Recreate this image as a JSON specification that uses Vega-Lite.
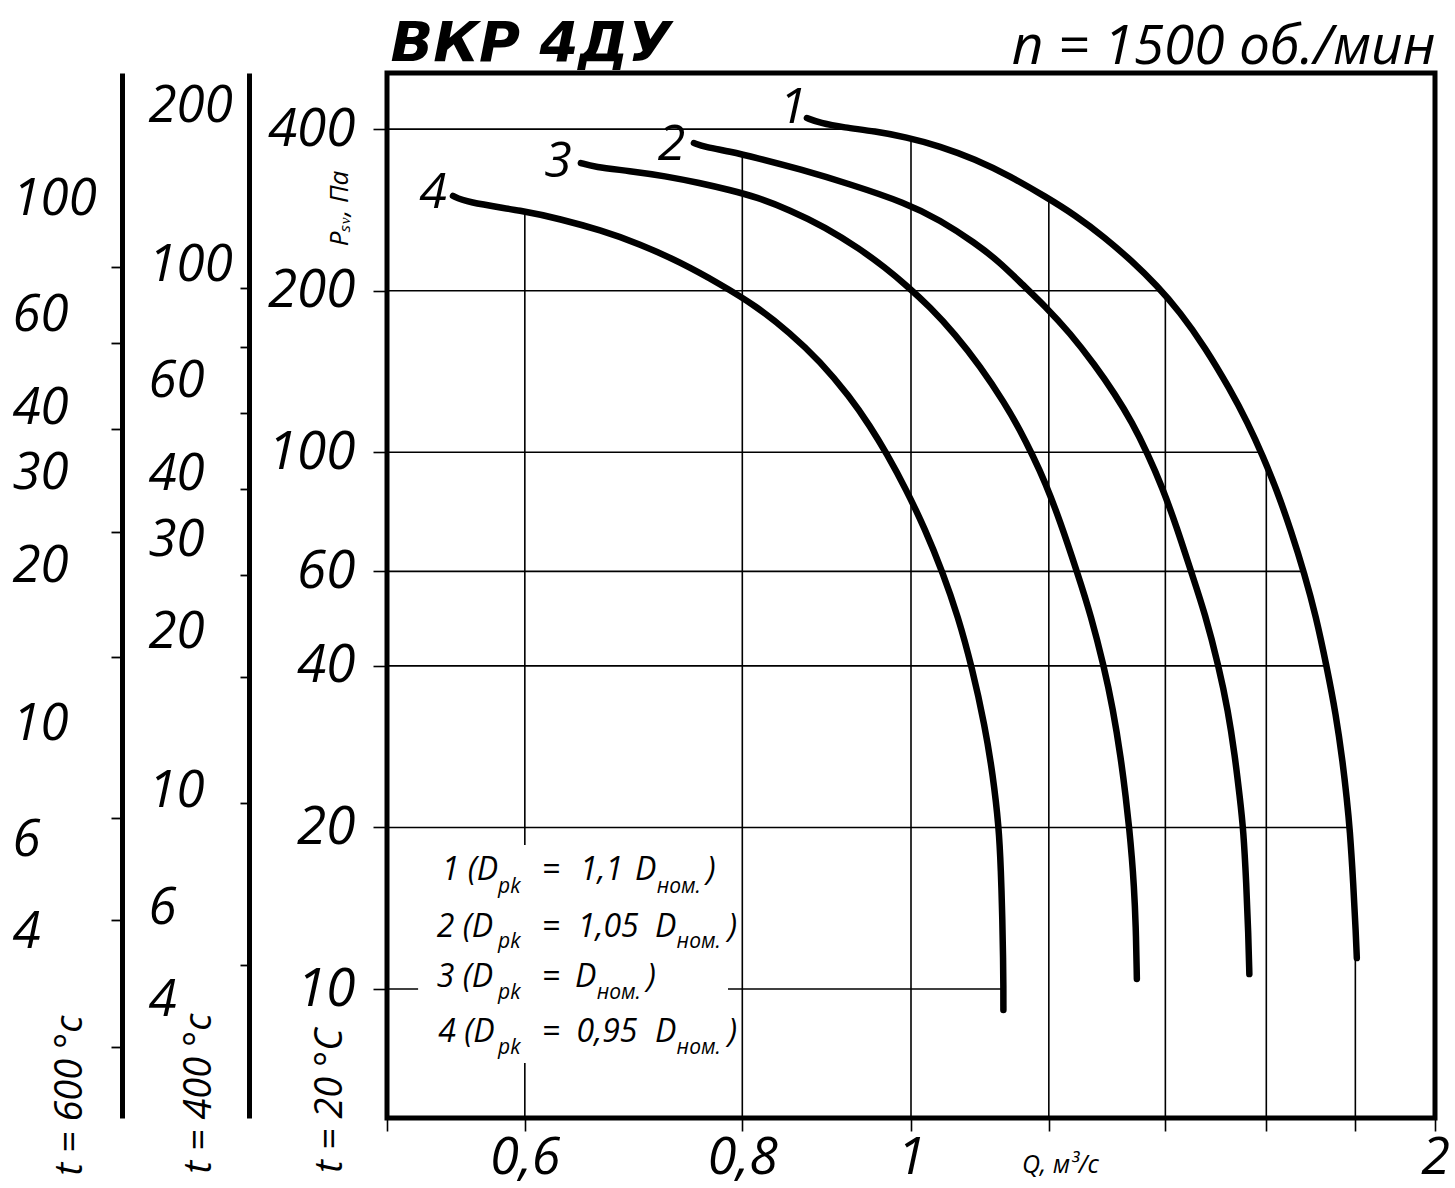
{
  "$schema": "https://vega.github.io/schema/vega-lite/v6.json",
  "width": 1048,
  "height": 1045,
  "autosize": {"type": "none"},
  "padding": {"left": 387, "top": 73, "right": 20, "bottom": 70},
  "background": "white",
  "config": {
    "view": {"stroke": "black", "strokeWidth": 5},
    "font": "Open Sans",
    "axis": {
      "grid": false,
      "labelFont": "Open Sans",
      "titleFont": "Open Sans",
      "labelColor": "black",
      "titleColor": "black",
      "tickColor": "black",
      "domainColor": "black",
      "labelFontStyle": "italic",
      "titleFontStyle": "italic",
      "titleFontWeight": "normal",
      "labelFlush": false,
      "labelOverlap": false
    }
  },
  "datasets": {
    "curves": [
      {"c": 1, "q": 0.8714, "p": 419.6}, {"c": 1, "q": 0.8865, "p": 410.7}, {"c": 1, "q": 0.9151, "p": 402.9},
      {"c": 1, "q": 0.9534, "p": 396.5}, {"c": 1, "q": 0.9933, "p": 386.6}, {"c": 1, "q": 1.0391, "p": 371.9},
      {"c": 1, "q": 1.0882, "p": 351.7}, {"c": 1, "q": 1.1397, "p": 327.2}, {"c": 1, "q": 1.1953, "p": 299.2},
      {"c": 1, "q": 1.2421, "p": 276.8}, {"c": 1, "q": 1.2924, "p": 251.3}, {"c": 1, "q": 1.3394, "p": 227.2},
      {"c": 1, "q": 1.3843, "p": 204.6}, {"c": 1, "q": 1.4271, "p": 182.6}, {"c": 1, "q": 1.4751, "p": 157.1},
      {"c": 1, "q": 1.5247, "p": 131.2}, {"c": 1, "q": 1.5614, "p": 113.4}, {"c": 1, "q": 1.5927, "p": 98.4},
      {"c": 1, "q": 1.6225, "p": 84.95}, {"c": 1, "q": 1.6528, "p": 71.59}, {"c": 1, "q": 1.6836, "p": 59.07},
      {"c": 1, "q": 1.7083, "p": 49.61}, {"c": 1, "q": 1.7334, "p": 39.74}, {"c": 1, "q": 1.7541, "p": 32.57},
      {"c": 1, "q": 1.7704, "p": 26.39}, {"c": 1, "q": 1.7798, "p": 22.61}, {"c": 1, "q": 1.7869, "p": 19.89},
      {"c": 1, "q": 1.7952, "p": 15.69}, {"c": 1, "q": 1.8012, "p": 12.66}, {"c": 1, "q": 1.8035, "p": 11.42},

      {"c": 2, "q": 0.7504, "p": 376.9}, {"c": 2, "q": 0.7614, "p": 370.5}, {"c": 2, "q": 0.7870, "p": 363.5},
      {"c": 2, "q": 0.8146, "p": 354.0}, {"c": 2, "q": 0.8633, "p": 337.0}, {"c": 2, "q": 0.9224, "p": 316.0},
      {"c": 2, "q": 0.9933, "p": 291.4}, {"c": 2, "q": 1.0391, "p": 270.9}, {"c": 2, "q": 1.0882, "p": 245.7},
      {"c": 2, "q": 1.1248, "p": 225.9}, {"c": 2, "q": 1.1595, "p": 205.0}, {"c": 2, "q": 1.1937, "p": 187.4},
      {"c": 2, "q": 1.2339, "p": 166.9}, {"c": 2, "q": 1.2754, "p": 145.4}, {"c": 2, "q": 1.3096, "p": 128.4},
      {"c": 2, "q": 1.3394, "p": 113.9}, {"c": 2, "q": 1.3679, "p": 99.27}, {"c": 2, "q": 1.3935, "p": 86.46},
      {"c": 2, "q": 1.4215, "p": 72.43}, {"c": 2, "q": 1.4499, "p": 59.33}, {"c": 2, "q": 1.4751, "p": 50.18},
      {"c": 2, "q": 1.5027, "p": 39.81}, {"c": 2, "q": 1.5207, "p": 33.10}, {"c": 2, "q": 1.5348, "p": 27.23},
      {"c": 2, "q": 1.5450, "p": 22.69}, {"c": 2, "q": 1.5522, "p": 19.83}, {"c": 2, "q": 1.5583, "p": 15.69},
      {"c": 2, "q": 1.5624, "p": 12.66}, {"c": 2, "q": 1.5645, "p": 10.66},

      {"c": 3, "q": 0.6462, "p": 345.9}, {"c": 3, "q": 0.6574, "p": 340.1}, {"c": 3, "q": 0.6895, "p": 334.3},
      {"c": 3, "q": 0.7222, "p": 327.2}, {"c": 3, "q": 0.7564, "p": 317.5}, {"c": 3, "q": 0.7870, "p": 308.1},
      {"c": 3, "q": 0.8146, "p": 299.1}, {"c": 3, "q": 0.8520, "p": 282.8}, {"c": 3, "q": 0.8924, "p": 262.9},
      {"c": 3, "q": 0.9348, "p": 239.2}, {"c": 3, "q": 0.9661, "p": 221.0}, {"c": 3, "q": 0.9933, "p": 205.0},
      {"c": 3, "q": 1.0254, "p": 186.6}, {"c": 3, "q": 1.0598, "p": 166.1}, {"c": 3, "q": 1.0955, "p": 144.8},
      {"c": 3, "q": 1.1322, "p": 123.3}, {"c": 3, "q": 1.1549, "p": 110.1}, {"c": 3, "q": 1.1749, "p": 98.5},
      {"c": 3, "q": 1.1937, "p": 88.25}, {"c": 3, "q": 1.2176, "p": 74.66}, {"c": 3, "q": 1.2470, "p": 59.23},
      {"c": 3, "q": 1.2687, "p": 49.63}, {"c": 3, "q": 1.2906, "p": 39.93}, {"c": 3, "q": 1.3061, "p": 33.33},
      {"c": 3, "q": 1.3200, "p": 26.94}, {"c": 3, "q": 1.3288, "p": 22.69}, {"c": 3, "q": 1.3349, "p": 19.83},
      {"c": 3, "q": 1.3394, "p": 17.54}, {"c": 3, "q": 1.3428, "p": 15.69}, {"c": 3, "q": 1.3464, "p": 13.16},
      {"c": 3, "q": 1.3482, "p": 10.44},

      {"c": 4, "q": 0.5456, "p": 300.4}, {"c": 4, "q": 0.5543, "p": 292.7}, {"c": 4, "q": 0.5993, "p": 281.6},
      {"c": 4, "q": 0.6286, "p": 272.1}, {"c": 4, "q": 0.6627, "p": 259.6}, {"c": 4, "q": 0.6988, "p": 244.4},
      {"c": 4, "q": 0.7366, "p": 226.2}, {"c": 4, "q": 0.7767, "p": 205.9}, {"c": 4, "q": 0.8146, "p": 187.4},
      {"c": 4, "q": 0.8520, "p": 166.9}, {"c": 4, "q": 0.8865, "p": 147.9}, {"c": 4, "q": 0.9224, "p": 126.8},
      {"c": 4, "q": 0.9472, "p": 111.9}, {"c": 4, "q": 0.9687, "p": 99.27}, {"c": 4, "q": 0.9933, "p": 85.42},
      {"c": 4, "q": 1.0187, "p": 71.96}, {"c": 4, "q": 1.0431, "p": 59.58}, {"c": 4, "q": 1.0640, "p": 49.54},
      {"c": 4, "q": 1.0839, "p": 39.81}, {"c": 4, "q": 1.1027, "p": 30.91}, {"c": 4, "q": 1.1144, "p": 25.04},
      {"c": 4, "q": 1.1233, "p": 20.04}, {"c": 4, "q": 1.1263, "p": 16.66}, {"c": 4, "q": 1.1285, "p": 13.45},
      {"c": 4, "q": 1.1296, "p": 11.32}, {"c": 4, "q": 1.1300, "p": 10.10}, {"c": 4, "q": 1.1300, "p": 9.14}
    ],
    "vgrid": [
      {"q": 0.6, "ptop": 281.4}, {"q": 0.8, "ptop": 359}, {"q": 1.0, "ptop": 384.5},
      {"q": 1.2, "ptop": 297}, {"q": 1.4, "ptop": 196.6}, {"q": 1.6, "ptop": 95.1}, {"q": 1.8, "ptop": 11.42}
    ],
    "hgrid": [
      {"p": 400, "qend": 0.932}, {"p": 200, "qend": 1.393}, {"p": 100, "qend": 1.588},
      {"p": 60, "qend": 1.681}, {"p": 40, "qend": 1.733}, {"p": 20, "qend": 1.787}, {"p": 10, "qend": 1.130}
    ],
    "curveLabels": [
      {"t": "1", "q": 0.8556, "p": 410.7}, {"t": "2", "q": 0.7284, "p": 350.5},
      {"t": "3", "q": 0.6269, "p": 326.2}, {"t": "4", "q": 0.5314, "p": 285.3}
    ],
    "legendMain": [
      {"t": "1 (D", "q": 0.5376, "p": 15.96}, {"t": "=", "q": 0.6135, "p": 15.96}, {"t": "1,1", "q": 0.6454, "p": 15.96},
      {"t": "D", "q": 0.6941, "p": 15.96}, {"t": ")", "q": 0.7631, "p": 15.96},
      {"t": "2 (D", "q": 0.5340, "p": 12.52}, {"t": "=", "q": 0.6135, "p": 12.52}, {"t": "1,05", "q": 0.6436, "p": 12.52},
      {"t": "D", "q": 0.7127, "p": 12.52}, {"t": ")", "q": 0.7849, "p": 12.52},
      {"t": "3 (D", "q": 0.5340, "p": 10.10}, {"t": "=", "q": 0.6135, "p": 10.10}, {"t": "D", "q": 0.6411, "p": 10.10},
      {"t": ")", "q": 0.7049, "p": 10.10},
      {"t": "4 (D", "q": 0.5351, "p": 7.98}, {"t": "=", "q": 0.6135, "p": 7.98}, {"t": "0,95", "q": 0.6425, "p": 7.98},
      {"t": "D", "q": 0.7127, "p": 7.98}, {"t": ")", "q": 0.7849, "p": 7.98}
    ],
    "legendSub": [
      {"t": "pk", "q": 0.5791, "p": 15.10}, {"t": "ном.", "q": 0.7143, "p": 15.10},
      {"t": "pk", "q": 0.5791, "p": 11.92}, {"t": "ном.", "q": 0.7334, "p": 11.92},
      {"t": "pk", "q": 0.5791, "p": 9.58}, {"t": "ном.", "q": 0.6598, "p": 9.58},
      {"t": "pk", "q": 0.5791, "p": 7.57}, {"t": "ном.", "q": 0.7334, "p": 7.57}
    ],
    "t400": [{"v": 4}, {"v": 6}, {"v": 10}, {"v": 20}, {"v": 30}, {"v": 40}, {"v": 60}, {"v": 100}, {"v": 200}],
    "t400ticks": [{"v": 4.68}, {"v": 9.51}, {"v": 16.5}, {"v": 25.8}, {"v": 37.5}, {"v": 52.4}, {"v": 69.9}, {"v": 90.5}],
    "t600": [{"v": 4}, {"v": 6}, {"v": 10}, {"v": 20}, {"v": 30}, {"v": 40}, {"v": 60}, {"v": 100}],
    "t600ticks": [{"v": 2.43}, {"v": 4.23}, {"v": 6.62}, {"v": 13.4}, {"v": 23.2}, {"v": 36.5}, {"v": 53.2}, {"v": 74.2}]
  },
  "layer": [
    {
      "layer": [
        {
          "data": {"name": "vgrid"},
          "mark": {"type": "rule", "color": "black", "strokeWidth": 1.6},
          "encoding": {
            "x": {
              "field": "q", "type": "quantitative",
              "scale": {"type": "log", "domain": [0.5, 2], "nice": false},
              "axis": {
                "orient": "bottom",
                "values": [0.5, 0.6, 0.8, 1, 1.2, 1.4, 1.6, 1.8, 2],
                "labelExpr": "datum.value == 0.6 ? '0,6' : datum.value == 0.8 ? '0,8' : datum.value == 1 ? '1' : datum.value == 2 ? '2' : ''",
                "domain": false,
                "tickSize": 13,
                "tickWidth": 1.6,
                "labelFontSize": 52,
                "labelBaseline": "alphabetic",
                "labelPadding": 42,
                "labelAlign": "center",
                "title": "Q, м³/с",
                "titleFontSize": 25,
                "titleX": 673,
                "titleY": 54,
                "titleAlign": "center",
                "titleBaseline": "alphabetic"
              }
            },
            "y": {
              "field": "ptop", "type": "quantitative",
              "scale": {"type": "log", "domain": [5.75, 509], "nice": false},
              "axis": {
                "orient": "left",
                "values": [10, 20, 40, 60, 100, 200, 400],
                "labelExpr": "'' + datum.value",
                "domain": false,
                "tickSize": 14,
                "tickWidth": 1.6,
                "labelFontSize": 53,
                "labelPadding": 18,
                "title": "t = 20 °C",
                "titleFontSize": 38,
                "titleAngle": 270,
                "titleX": -57,
                "titleY": 1027,
                "titleAlign": "center",
                "titleBaseline": "middle"
              }
            },
            "y2": {"datum": 5.75}
          }
        },
        {
          "data": {"name": "hgrid"},
          "mark": {"type": "rule", "color": "black", "strokeWidth": 1.6},
          "encoding": {
            "y": {"field": "p", "type": "quantitative"},
            "x": {"field": "qend", "type": "quantitative"},
            "x2": {"datum": 0.5}
          }
        },
        {
          "data": {"values": [{}]},
          "mark": {"type": "rect", "fill": "white"},
          "encoding": {
            "x": {"datum": 0.521},
            "x2": {"datum": 0.785},
            "y": {"datum": 18.55},
            "y2": {"datum": 7.28}
          }
        },
        {
          "data": {"name": "curves"},
          "mark": {"type": "line", "color": "black", "strokeWidth": 6.5, "strokeCap": "round", "strokeJoin": "round", "interpolate": "basis"},
          "encoding": {
            "x": {"field": "q", "type": "quantitative"},
            "y": {"field": "p", "type": "quantitative"},
            "detail": {"field": "c", "type": "nominal"},
            "order": {"value": null}
          }
        },
        {
          "data": {"name": "curveLabels"},
          "mark": {"type": "text", "font": "Open Sans", "fontSize": 50, "fontStyle": "italic", "align": "center", "baseline": "alphabetic", "color": "black"},
          "encoding": {
            "x": {"field": "q", "type": "quantitative"},
            "y": {"field": "p", "type": "quantitative"},
            "text": {"field": "t", "type": "nominal"}
          }
        },
        {
          "data": {"name": "legendMain"},
          "mark": {"type": "text", "font": "Open Sans", "fontSize": 32, "fontStyle": "italic", "align": "left", "baseline": "alphabetic", "color": "black"},
          "encoding": {
            "x": {"field": "q", "type": "quantitative"},
            "y": {"field": "p", "type": "quantitative"},
            "text": {"field": "t", "type": "nominal"}
          }
        },
        {
          "data": {"name": "legendSub"},
          "mark": {"type": "text", "font": "Open Sans", "fontSize": 21, "fontStyle": "italic", "align": "left", "baseline": "alphabetic", "color": "black"},
          "encoding": {
            "x": {"field": "q", "type": "quantitative"},
            "y": {"field": "p", "type": "quantitative"},
            "text": {"field": "t", "type": "nominal"}
          }
        }
      ]
    },
    {
      "data": {"name": "t400"},
      "mark": {"type": "point", "opacity": 0},
      "encoding": {
        "y": {
          "field": "v", "type": "quantitative",
          "scale": {"type": "log", "domain": [2.396, 231.7], "nice": false},
          "axis": {
            "orient": "left", "offset": 138,
            "values": [4, 6, 10, 20, 30, 40, 60, 100, 200],
            "labelExpr": "'' + datum.value",
            "ticks": false, "tickSize": 0,
            "domain": true, "domainWidth": 5,
            "labelAlign": "left", "labelPadding": 101, "labelFontSize": 51,
            "title": "t = 400 °c", "titleFontSize": 38, "titleAngle": 270,
            "titleX": -50, "titleY": 1020, "titleAlign": "center", "titleBaseline": "middle"
          }
        },
        "x": {
          "field": "v", "type": "quantitative",
          "axis": {
            "orient": "top", "domain": false, "ticks": false, "labels": false,
            "title": "ВКР 4ДУ", "titleFont": "DejaVu Sans", "titleFontSize": 56, "titleFontWeight": "bold", "titleFontStyle": "italic",
            "titleX": 3, "titleY": -13, "titleAlign": "left", "titleBaseline": "alphabetic"
          }
        }
      }
    },
    {
      "data": {"name": "t400ticks"},
      "mark": {"type": "point", "opacity": 0},
      "encoding": {
        "y": {
          "field": "v", "type": "quantitative",
          "scale": {"type": "log", "domain": [2.396, 231.7], "nice": false},
          "axis": {
            "orient": "left", "offset": 138,
            "values": [4.68, 9.51, 16.5, 25.8, 37.5, 52.4, 69.9, 90.5],
            "labels": false, "domain": false, "ticks": true, "tickSize": 9, "tickWidth": 1.8,
            "title": null
          }
        }
      }
    },
    {
      "data": {"name": "t600"},
      "mark": {"type": "point", "opacity": 0},
      "encoding": {
        "y": {
          "field": "v", "type": "quantitative",
          "scale": {"type": "log", "domain": [1.776, 173.9], "nice": false},
          "axis": {
            "orient": "left", "offset": 265,
            "values": [4, 6, 10, 20, 30, 40, 60, 100],
            "labelExpr": "'' + datum.value",
            "ticks": false, "tickSize": 0,
            "domain": true, "domainWidth": 5,
            "labelAlign": "left", "labelPadding": 110, "labelFontSize": 51,
            "title": "t = 600 °c", "titleFontSize": 38, "titleAngle": 270,
            "titleX": -52, "titleY": 1022, "titleAlign": "center", "titleBaseline": "middle"
          }
        }
      }
    },
    {
      "data": {"name": "t600ticks"},
      "mark": {"type": "point", "opacity": 0},
      "encoding": {
        "y": {
          "field": "v", "type": "quantitative",
          "scale": {"type": "log", "domain": [1.776, 173.9], "nice": false},
          "axis": {
            "orient": "left", "offset": 265,
            "values": [2.43, 4.23, 6.62, 13.4, 23.2, 36.5, 53.2, 74.2],
            "labels": false, "domain": false, "ticks": true, "tickSize": 11, "tickWidth": 1.8,
            "title": null
          }
        }
      }
    },
    {
      "data": {"name": "curves"},
      "mark": {"type": "point", "opacity": 0},
      "encoding": {
        "x": {
          "field": "q", "type": "quantitative",
          "scale": {"type": "log", "domain": [0.5, 2], "nice": false},
          "axis": {
            "orient": "top", "domain": false, "ticks": false, "labels": false,
            "title": "n = 1500 об./мин", "titleFontSize": 55,
            "titleX": 1048, "titleY": -10, "titleAlign": "right", "titleBaseline": "alphabetic"
          }
        },
        "y": {
          "field": "p", "type": "quantitative",
          "scale": {"type": "log", "domain": [5.75, 509], "nice": false},
          "axis": {
            "orient": "left", "domain": false, "ticks": false, "labels": false,
            "title": "Pₛᵥ, Па", "titleFontSize": 26, "titleAngle": 270,
            "titleX": -48, "titleY": 135, "titleAlign": "center", "titleBaseline": "middle"
          }
        }
      }
    }
  ],
  "resolve": {"scale": {"x": "independent", "y": "independent"}}
}
